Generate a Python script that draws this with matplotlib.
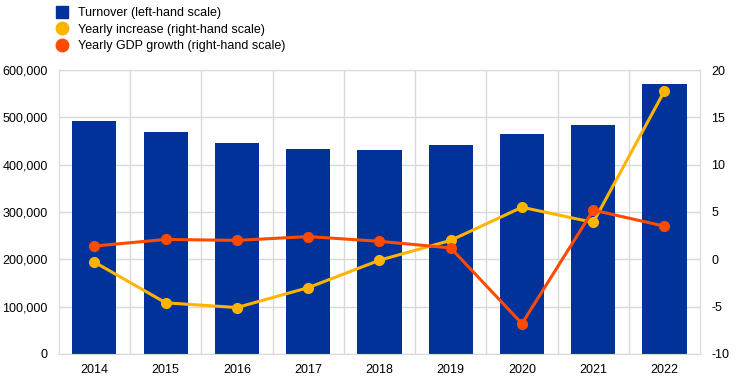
import matplotlib.pyplot as plt
from matplotlib.lines import Line2D
from matplotlib.ticker import FuncFormatter

plt.rcParams['font.family'] = ['Liberation Sans', 'DejaVu Sans']
plt.rcParams['font.size'] = 9
plt.rcParams['axes.unicode_minus'] = False

years = ['2014', '2015', '2016', '2017', '2018', '2019', '2020', '2021', '2022']
turnover = [492000, 469000, 446000, 432500, 432000, 441000, 465000, 483000, 570000]
yearly_increase = [-0.3, -4.6, -5.1, -3.0, -0.1, 2.0, 5.5, 3.9, 17.8]
gdp_growth = [1.4, 2.1, 2.0, 2.4, 1.9, 1.2, -6.8, 5.2, 3.5]

blue = '#003299'
yellow = '#ffb400'
red = '#ff4b00'
grid_col = '#d9d9d9'

fig = plt.figure(figsize=(7.44, 3.83), dpi=100)
ax = fig.add_axes([0.079, 0.076, 0.862, 0.741])
x = list(range(len(years)))

ax.bar(x, turnover, width=0.62, color=blue, zorder=2)
ax.set_ylim(0, 600000)
ax.set_xlim(-0.5, len(years) - 0.5)
ax.set_yticks(range(0, 600001, 100000))
ax.yaxis.set_major_formatter(FuncFormatter(lambda v, p: f'{int(v):,}'))
ax.set_xticks(x)
ax.set_xticklabels(years)
ax.set_xticks([i + 0.5 for i in x[:-1]], minor=True)
ax.grid(True, axis='y', color=grid_col, linewidth=1, zorder=0)
ax.grid(True, axis='x', which='minor', color=grid_col, linewidth=1, zorder=0)
ax.tick_params(axis='y', which='both', length=0, pad=8)
ax.tick_params(axis='x', which='both', length=0, pad=7)
for s in ax.spines.values():
    s.set_color(grid_col)

ax2 = ax.twinx()
ax2.plot(x, yearly_increase, color=yellow, linewidth=2.2, marker='o', markersize=7, zorder=3)
ax2.plot(x, gdp_growth, color=red, linewidth=2.2, marker='o', markersize=7, zorder=4)
ax2.set_ylim(-10, 20)
ax2.set_yticks(range(-10, 21, 5))
ax2.tick_params(length=0, pad=8)
for s in ax2.spines.values():
    s.set_visible(False)

handles = [
    Line2D([], [], color=blue, marker='s', linestyle='none', markersize=8.5),
    Line2D([], [], color=yellow, marker='o', linestyle='none', markersize=9),
    Line2D([], [], color=red, marker='o', linestyle='none', markersize=9),
]
labels = ['Turnover (left-hand scale)', 'Yearly increase (right-hand scale)',
          'Yearly GDP growth (right-hand scale)']
fig.legend(handles, labels, loc='upper left', bbox_to_anchor=(0.06, 1.01),
           frameon=False, handletextpad=0.8, labelspacing=0.35, handlelength=1.0)

plt.savefig('out.png', dpi=100)
